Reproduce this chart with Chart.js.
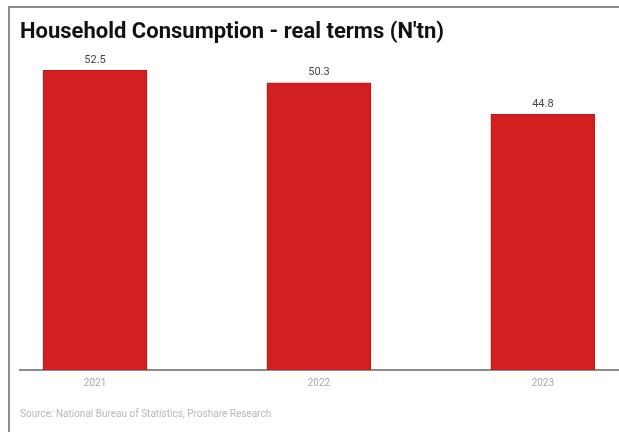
<!DOCTYPE html>
<html>
<head>
<meta charset="utf-8">
<title>Household Consumption - real terms</title>
<script src="https://cdn.jsdelivr.net/npm/chart.js@4"></script>
<style>
    html, body { margin: 0; padding: 0; background: #fff; }
    #wrap { position: relative; width: 619px; height: 432px; overflow: hidden; }
    #frame {
        position: absolute; left: 8px; top: 6px; right: -4px; bottom: -4px;
        border-left: 2px solid #8c8c8c; border-top: 2px solid #8c8c8c;
        pointer-events: none;
    }
</style>
</head>
<body>
<div id="wrap">
    <canvas id="consumptionChart" width="619" height="432"></canvas>
    <div id="frame"></div>
</div>
<script>
// Chart data
const years = ['2021', '2022', '2023'];
const consumption = [52.5, 50.3, 44.8];
const sourceNote = 'Source: National Bureau of Statistics, Proshare Research';

/**
 * Write the value above each bar
 */
const valueLabels = {
    id: 'valueLabels',
    afterDatasetsDraw(chart) {
        const ctx = chart.ctx;
        const meta = chart.getDatasetMeta(0);
        ctx.save();
        ctx.font = '11px Roboto';
        ctx.fillStyle = '#444';
        ctx.textAlign = 'center';
        ctx.textBaseline = 'bottom';
        meta.data.forEach((bar, i) => {
            ctx.fillText(consumption[i].toFixed(1), bar.x, bar.y - 5);
        });
        ctx.restore();
    }
};

function initChart() {
    const points = years.map((year, i) => ({ x: i, y: consumption[i] }));

    new Chart(document.getElementById('consumptionChart'), {
        type: 'bar',
        data: {
            datasets: [{
                data: points,
                backgroundColor: '#d21f1f',
                borderColor: '#c21515',
                borderWidth: 1,
                barThickness: 104
            }]
        },
        options: {
            responsive: false,
            animation: false,
            layout: { padding: { left: 20, right: 0, top: 0, bottom: 8 } },
            plugins: {
                legend: { display: false },
                tooltip: { enabled: false },
                title: {
                    display: true,
                    text: "Household Consumption - real terms (N'tn)",
                    align: 'start',
                    color: '#111',
                    font: { family: 'Roboto', size: 22, weight: 'bold' },
                    padding: { top: 19, bottom: 5 }
                },
                subtitle: {
                    display: true,
                    position: 'bottom',
                    align: 'start',
                    text: sourceNote,
                    color: '#b8b8b8',
                    font: { family: 'Roboto', size: 10 },
                    padding: { top: 12, bottom: 4 }
                }
            },
            scales: {
                x: {
                    type: 'linear',
                    offset: false,
                    min: -0.335,
                    max: 2.34,
                    afterBuildTicks: scale => {
                        scale.ticks = years.map((y, i) => ({ value: i }));
                    },
                    grid: { display: false, drawTicks: false },
                    border: { display: true, color: '#8c8c8c', width: 2 },
                    ticks: {
                        padding: 7,
                        color: '#a8a8a8',
                        font: { family: 'Roboto', size: 10 },
                        callback: value => years[value]
                    }
                },
                y: {
                    display: false,
                    min: 0,
                    max: 56
                }
            }
        },
        plugins: [valueLabels]
    });
}

document.addEventListener('DOMContentLoaded', initChart);
</script>
</body>
</html>
